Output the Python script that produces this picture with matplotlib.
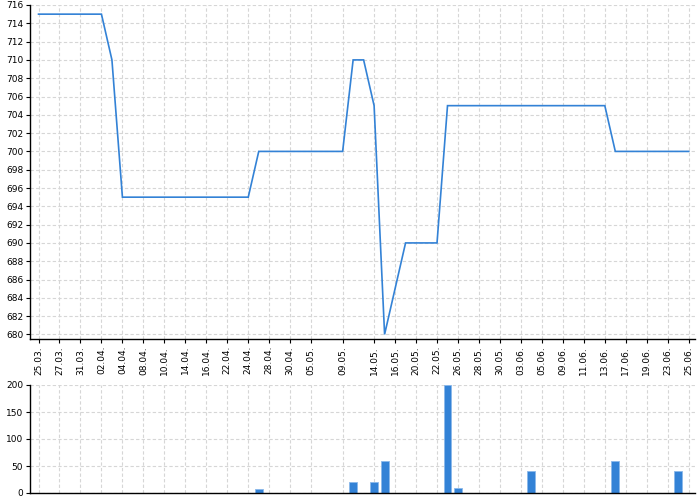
import matplotlib
matplotlib.use("Agg")
import matplotlib.pyplot as plt
import numpy as np

dates = ["25.03.", "26.03.", "27.03.", "28.03.", "31.03.", "01.04.", "02.04.", "03.04.",
         "04.04.", "07.04.", "08.04.", "09.04.", "10.04.", "11.04.", "14.04.", "15.04.",
         "16.04.", "18.04.", "22.04.", "23.04.", "24.04.", "25.04.", "28.04.", "29.04.",
         "30.04.", "02.05.", "05.05.", "06.05.", "08.05.", "09.05.", "12.05.", "13.05.",
         "14.05.", "15.05.", "16.05.", "19.05.", "20.05.", "21.05.", "22.05.", "23.05.",
         "26.05.", "27.05.", "28.05.", "29.05.", "30.05.", "02.06.", "03.06.", "04.06.",
         "05.06.", "06.06.", "09.06.", "10.06.", "11.06.", "12.06.", "13.06.", "16.06.",
         "17.06.", "18.06.", "19.06.", "20.06.", "23.06.", "24.06.", "25.06."]

shown_labels = ["25.03.", "27.03.", "31.03.", "02.04.", "04.04.", "08.04.", "10.04.",
                "14.04.", "16.04.", "22.04.", "24.04.", "28.04.", "30.04.", "05.05.",
                "09.05.", "14.05.", "16.05.", "20.05.", "22.05.", "26.05.", "28.05.",
                "30.05.", "03.06.", "05.06.", "09.06.", "11.06.", "13.06.", "17.06.",
                "19.06.", "23.06.", "25.06."]

prices = ([715] * 7 + [710] + [695] * 13 + [700] * 9 + [710, 710, 705, 680, 685]
          + [690] * 4 + [705] * 16 + [700] * 8)

volume_days = ["25.04.", "12.05.", "14.05.", "15.05.", "23.05.", "26.05.", "04.06.",
               "16.06.", "24.06."]
volume_vals = [7, 20, 20, 60, 200, 10, 40, 60, 40]

x = np.arange(len(dates))
volumes = np.zeros(len(dates))
for d, v in zip(volume_days, volume_vals):
    volumes[dates.index(d)] = v
tick_pos = [dates.index(l) for l in shown_labels]

blue = "#3382d6"
grid_kw = dict(color="#d6d6d6", linestyle=(0, (3, 2)), linewidth=0.8)

fig = plt.figure(figsize=(7, 5), dpi=100)
W, H = 700, 500
left, right = 29.5 / W, 695 / W
ax1 = fig.add_axes([left, 1 - 339 / H, right - left, (339 - 5) / H])
ax2 = fig.add_axes([left, 1 - 493 / H, right - left, (493 - 385) / H])

xlim = (-0.86, 62.6)

ax1.plot(x, prices, color=blue, linewidth=1.2, solid_joinstyle="miter")
ax1.set_xlim(*xlim)
ax1.set_ylim(679.5, 716)
ax1.set_yticks(np.arange(680, 717, 2))
ax1.set_xticks(tick_pos)
ax1.set_xticklabels(shown_labels, rotation=90)
ax1.grid(True, **grid_kw)

ax2.bar(x, volumes, width=0.76, color=blue, edgecolor="#8ab8ea", linewidth=0.6)
ax2.set_xlim(*xlim)
ax2.set_ylim(0, 200)
ax2.set_yticks([0, 50, 100, 150, 200])
ax2.set_xticks(tick_pos)
ax2.tick_params(axis="x", length=0, labelbottom=False)
ax2.grid(True, **grid_kw)

for ax in (ax1, ax2):
    ax.set_axisbelow(True)
    ax.spines["top"].set_visible(False)
    ax.spines["right"].set_visible(False)
    ax.spines["left"].set_linewidth(1.0)
    ax.spines["bottom"].set_linewidth(1.0)
    ax.tick_params(axis="y", labelsize=6.5, length=3, width=0.8, pad=1.5)
ax1.tick_params(axis="x", labelsize=6.5, length=3, width=0.8, pad=2)

fig.savefig("out.png", dpi=100)
